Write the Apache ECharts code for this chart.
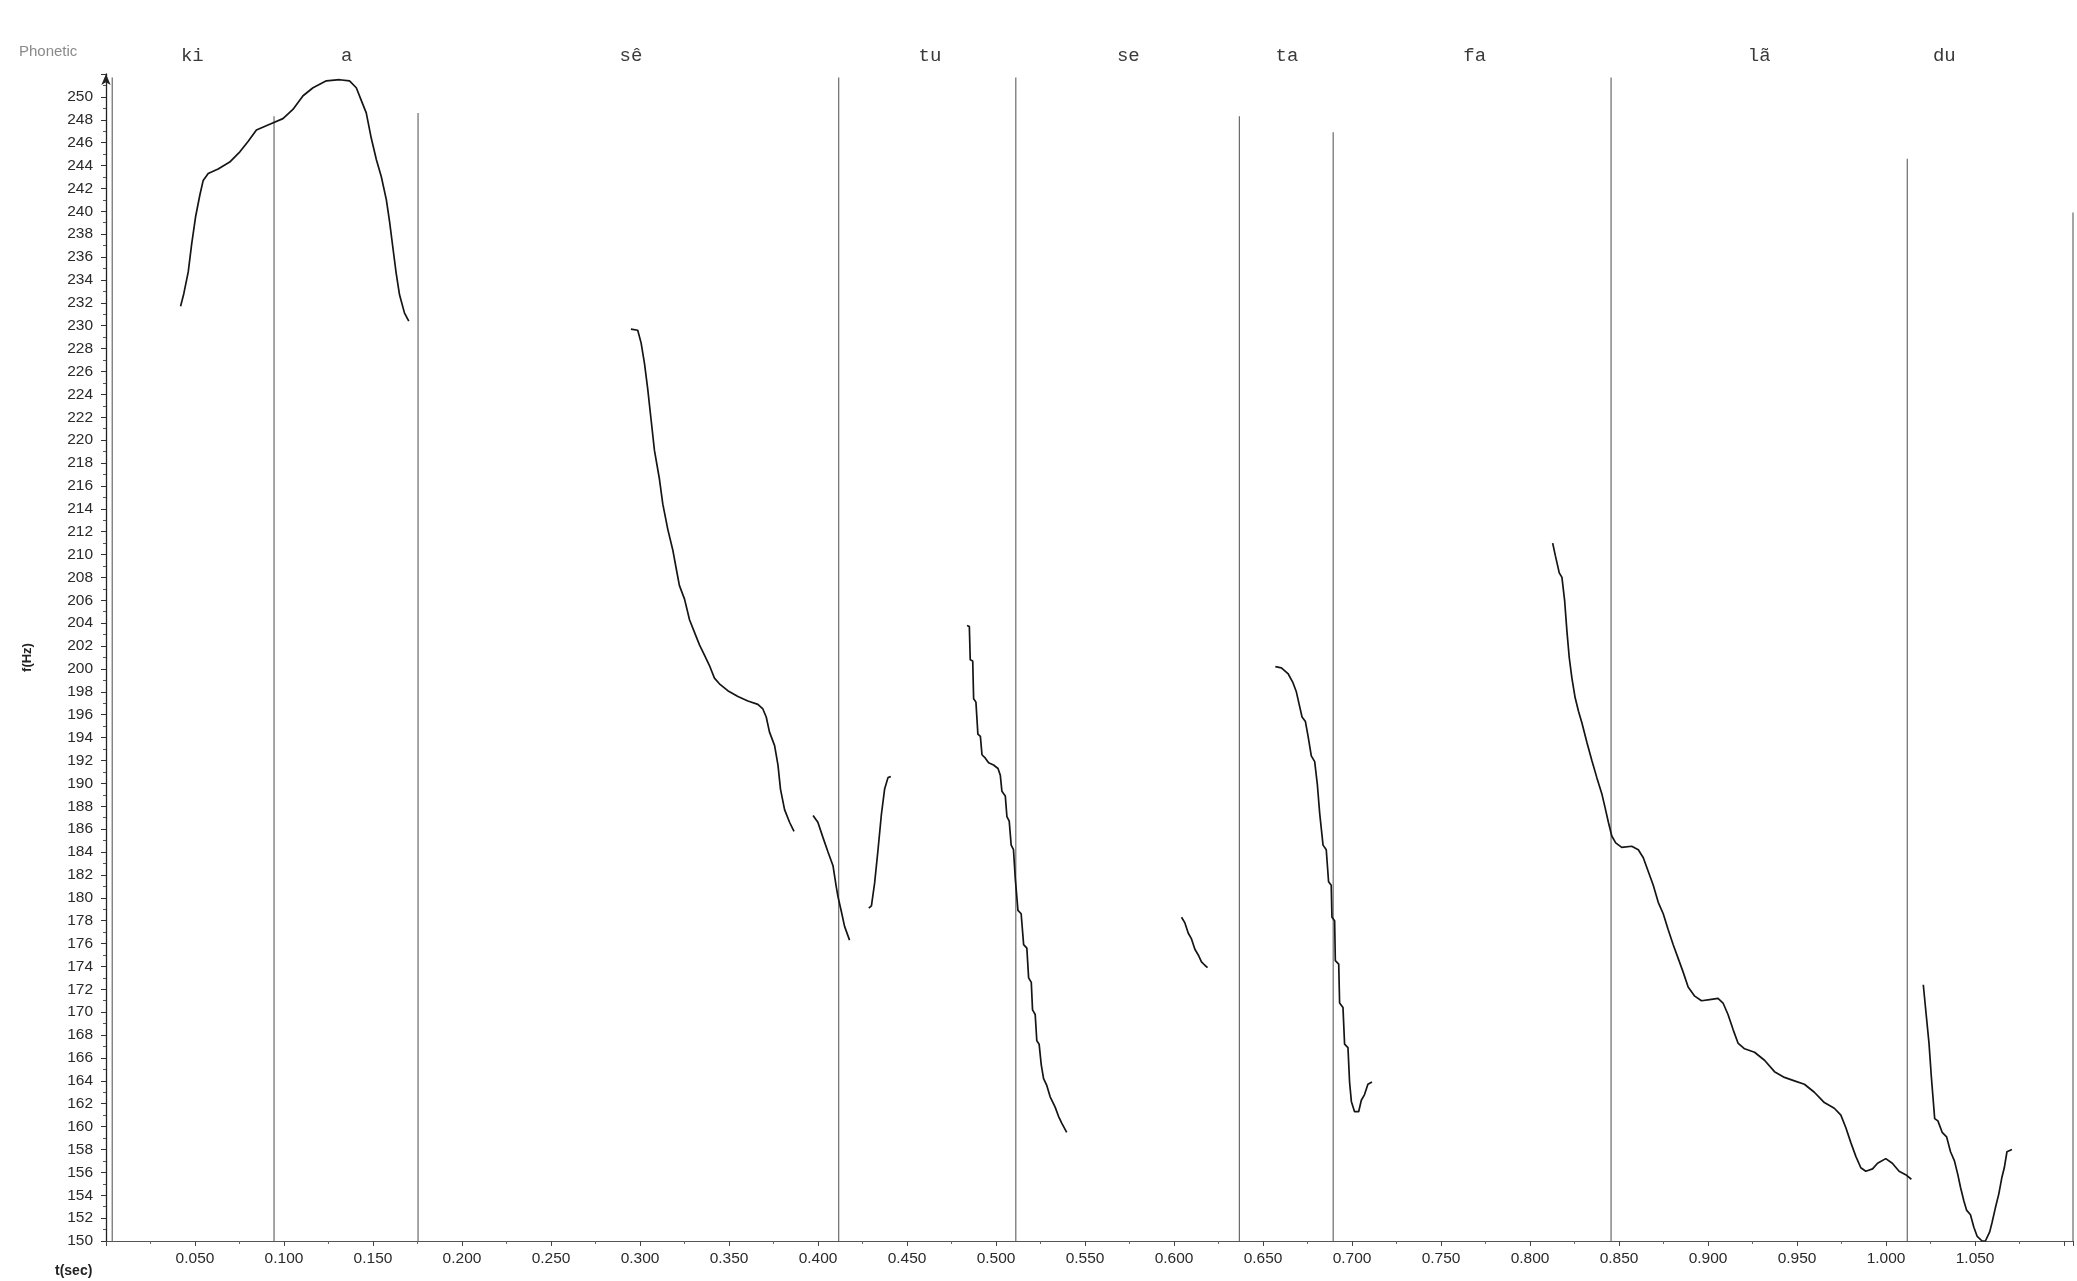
<!DOCTYPE html>
<html>
<head>
<meta charset="utf-8">
<script src="https://cdn.jsdelivr.net/npm/echarts@6/dist/echarts.min.js"></script>
<style>
html,body{margin:0;padding:0;background:#fff;}
#chart{width:2077px;height:1281px;}
</style>
</head>
<body>
<div id="chart"></div>
<script>
// Phonetic syllables and their time positions (sec)
const syllables = ['ki', 'a', 'sê', 'tu', 'se', 'ta', 'fa', 'lã', 'du'];
const syllableTimes = [0.0485, 0.1352, 0.2949, 0.4629, 0.5743, 0.6634, 0.7689, 0.9287, 1.0327];

// Segment boundary marks: time (sec) and upper end (Hz)
const boundaryTimes = [0.0035, 0.0944, 0.1753, 0.4116, 0.5111, 0.6367, 0.6894, 0.8455, 1.0119, 1.105];
const boundaryTops = [251.7, 248.3, 248.6, 251.7, 251.7, 248.3, 246.9, 251.7, 244.6, 239.9];

// F0 contour pieces [t(sec), f(Hz)]
const contourKiA = [
  [0.0419,231.7],[0.0437,232.8],[0.0462,234.7],[0.0481,237.1],[0.0503,239.5],[0.0527,241.4],
  [0.0546,242.7],[0.0574,243.3],[0.0630,243.7],[0.0695,244.3],[0.0752,245.2],[0.0798,246.1],
  [0.0845,247.1],[0.0920,247.6],[0.0994,248.1],[0.1050,248.9],[0.1107,250.1],[0.1163,250.8],
  [0.1238,251.4],[0.1312,251.5],[0.1368,251.4],[0.1406,250.8],[0.1434,249.7],[0.1462,248.6],
  [0.1490,246.4],[0.1519,244.5],[0.1547,243.0],[0.1575,241.0],[0.1593,239.1],[0.1611,236.9],
  [0.1630,234.6],[0.1649,232.7],[0.1677,231.1],[0.1701,230.4]
];
const contourSe1 = [
  [0.2949,229.7],[0.2987,229.6],[0.3006,228.5],[0.3025,226.7],[0.3043,224.5],[0.3062,221.8],
  [0.3081,219.1],[0.3109,216.6],[0.3128,214.4],[0.3156,212.2],[0.3184,210.4],[0.3203,208.8],
  [0.3221,207.3],[0.3250,206.1],[0.3278,204.3],[0.3306,203.2],[0.3334,202.1],[0.3362,201.2],
  [0.3390,200.3],[0.3418,199.2],[0.3446,198.7],[0.3493,198.1],[0.3550,197.6],[0.3606,197.2],
  [0.3662,196.9],[0.3690,196.5],[0.3709,195.8],[0.3727,194.5],[0.3756,193.3],[0.3775,191.6],
  [0.3789,189.5],[0.3812,187.7],[0.3840,186.6],[0.3865,185.8]
];
const contourSe2 = [
  [0.3972,187.2],[0.3999,186.6],[0.4027,185.3],[0.4056,184.0],[0.4084,182.8],[0.4102,181.0],
  [0.4112,180.1],[0.4131,178.8],[0.4149,177.5],[0.4177,176.3]
];
const contourTu1 = [
  [0.4285,179.1],[0.4300,179.3],[0.4318,181.3],[0.4337,184.2],[0.4356,187.3],[0.4374,189.5],
  [0.4393,190.5],[0.4409,190.6]
];
const contourTu2 = [
  [0.4837,203.8],[0.4850,203.7],[0.4855,200.8],[0.4869,200.7],[0.4874,197.4],[0.4887,197.1],
  [0.4898,194.3],[0.4912,194.1],[0.4921,192.5],[0.4940,192.2],[0.4958,191.8],[0.4986,191.6],
  [0.5011,191.3],[0.5024,190.7],[0.5033,189.3],[0.5052,188.9],[0.5061,187.1],[0.5074,186.7],
  [0.5085,184.6],[0.5098,184.2],[0.5108,181.7],[0.5117,181.6],[0.5123,178.9],[0.5141,178.6],
  [0.5155,175.9],[0.5173,175.6],[0.5183,173.0],[0.5198,172.6],[0.5205,170.2],[0.5220,169.8],
  [0.5229,167.5],[0.5242,167.2],[0.5254,165.4],[0.5267,164.2],[0.5285,163.6],[0.5304,162.6],
  [0.5332,161.7],[0.5351,160.9],[0.5369,160.3],[0.5397,159.5]
];
const contourSe3 = [
  [0.6042,178.3],[0.6061,177.8],[0.6080,176.9],[0.6098,176.4],[0.6117,175.5],[0.6136,175.0],
  [0.6154,174.4],[0.6173,174.1],[0.6188,173.9]
];
const contourTa = [
  [0.6569,200.2],[0.6603,200.1],[0.6640,199.6],[0.6668,198.8],[0.6687,198.0],[0.6700,197.1],
  [0.6719,195.8],[0.6738,195.4],[0.6753,194.1],[0.6771,192.4],[0.6790,191.9],[0.6805,189.9],
  [0.6818,187.4],[0.6837,184.6],[0.6855,184.2],[0.6868,181.4],[0.6883,181.1],[0.6887,178.3],
  [0.6902,178.0],[0.6906,174.5],[0.6925,174.2],[0.6930,170.8],[0.6949,170.4],[0.6958,167.2],
  [0.6977,166.9],[0.6986,163.9],[0.6996,162.2],[0.7014,161.3],[0.7037,161.3],[0.7052,162.3],
  [0.7070,162.8],[0.7089,163.7],[0.7112,163.9]
];
const contourFaLa = [
  [0.8127,211.0],[0.8142,209.9],[0.8164,208.4],[0.8179,208.0],[0.8194,206.0],[0.8207,203.3],
  [0.8220,201.0],[0.8235,199.2],[0.8253,197.5],[0.8272,196.3],[0.8291,195.3],[0.8319,193.6],
  [0.8347,192.0],[0.8375,190.5],[0.8403,189.1],[0.8421,187.9],[0.8440,186.6],[0.8459,185.4],
  [0.8481,184.8],[0.8515,184.4],[0.8571,184.5],[0.8608,184.2],[0.8636,183.5],[0.8664,182.3],
  [0.8692,181.1],[0.8720,179.6],[0.8748,178.6],[0.8776,177.2],[0.8804,175.9],[0.8832,174.7],
  [0.8860,173.5],[0.8888,172.2],[0.8925,171.4],[0.8963,171.0],[0.9009,171.1],[0.9056,171.2],
  [0.9084,170.8],[0.9112,169.8],[0.9140,168.5],[0.9168,167.3],[0.9205,166.8],[0.9261,166.5],
  [0.9317,165.8],[0.9373,164.8],[0.9429,164.3],[0.9485,164.0],[0.9541,163.7],[0.9597,163.0],
  [0.9653,162.1],[0.9709,161.6],[0.9746,161.0],[0.9774,159.9],[0.9802,158.6],[0.9830,157.4],
  [0.9858,156.4],[0.9886,156.1],[0.9924,156.3],[0.9952,156.8],[0.9998,157.2],[1.0035,156.8],
  [1.0073,156.1],[1.0110,155.8],[1.0142,155.4]
];
const contourDu = [
  [1.0209,172.4],[1.0222,170.3],[1.0241,167.3],[1.0254,164.4],[1.0273,160.7],[1.0291,160.5],
  [1.0315,159.5],[1.0340,159.1],[1.0362,157.8],[1.0384,157.0],[1.0403,155.8],[1.0418,154.7],
  [1.0437,153.5],[1.0452,152.7],[1.0474,152.3],[1.0493,151.2],[1.0512,150.4],[1.0539,150.0],
  [1.0558,150.0],[1.0582,150.8],[1.0595,151.6],[1.0614,152.9],[1.0633,154.1],[1.0651,155.6],
  [1.0664,156.4],[1.0679,157.8],[1.0707,158.0]
];

const Y_MIN = 150, Y_MAX = 252;
const contours = [contourKiA, contourSe1, contourSe2, contourTu1, contourTu2, contourSe3, contourTa, contourFaLa, contourDu];

const series = [];
boundaryTimes.forEach((t, i) => {
  series.push({
    type: 'line', xAxisIndex: 0, yAxisIndex: 0, silent: true,
    data: [[t, Y_MIN], [t, boundaryTops[i]]],
    showSymbol: false, symbol: 'none',
    lineStyle: { color: '#6a6a6a', width: 1.2 },
    z: 1
  });
});
contours.forEach(c => {
  series.push({
    type: 'line', xAxisIndex: 0, yAxisIndex: 0,
    data: c, showSymbol: false, symbol: 'none',
    lineStyle: { color: '#151515', width: 1.7 },
    z: 3
  });
});

const chart = echarts.init(document.getElementById('chart'), null, { renderer: 'canvas' });
chart.setOption({
  animation: false,
  backgroundColor: '#ffffff',
  title: [
    { text: 'Phonetic', left: 14, top: 39, textStyle: { fontFamily: 'Liberation Sans', fontSize: 15, fontWeight: 'normal', color: '#8a8a8a' } },
    { text: 't(sec)', left: 50, top: 1259, textStyle: { fontFamily: 'Liberation Sans', fontSize: 14, fontWeight: 'bold', color: '#222' } }
  ],
  grid: { left: 106, right: 4, top: 74, bottom: 40, containLabel: false },
  xAxis: [
    {
      type: 'value', min: 0, max: 1.105, interval: 0.05, position: 'bottom',
      axisLine: { show: true, lineStyle: { color: '#555', width: 1.2 } },
      axisTick: { show: true, length: 5, lineStyle: { color: '#444' } },
      minorTick: { show: true, splitNumber: 2, length: 3, lineStyle: { color: '#666' } },
      splitLine: { show: false },
      axisLabel: {
        margin: 10, fontSize: 15.5, color: '#2a2a2a', fontFamily: 'Liberation Sans',
        formatter: v => (v > 0.001 && v < 1.075) ? v.toFixed(3) : ''
      }
    },
    {
      type: 'value', min: 0, max: 1.105, position: 'top',
      axisLine: { show: false }, axisTick: { show: false }, splitLine: { show: false },
      axisLabel: {
        customValues: syllableTimes,
        margin: 9, fontSize: 19, color: '#3a3a3a', fontFamily: 'Liberation Mono',
        formatter: v => {
          let best = 0, d = Infinity;
          syllableTimes.forEach((t, i) => { const dd = Math.abs(t - v); if (dd < d) { d = dd; best = i; } });
          return syllables[best];
        }
      }
    }
  ],
  yAxis: {
    type: 'value', min: Y_MIN, max: Y_MAX, interval: 2,
    axisLine: { show: true, symbol: ['none', 'arrow'], symbolSize: [7, 11], lineStyle: { color: '#222', width: 1.3 } },
    axisTick: { show: true, length: 5, lineStyle: { color: '#333' } },
    minorTick: { show: true, splitNumber: 2, length: 3, lineStyle: { color: '#555' } },
    splitLine: { show: false },
    axisLabel: {
      margin: 13, fontSize: 15.5, color: '#2a2a2a', fontFamily: 'Liberation Sans',
      formatter: v => v > 250.5 ? '' : String(v)
    },
    name: 'f(Hz)', nameLocation: 'middle', nameGap: 72, nameRotate: 90,
    nameTextStyle: { fontFamily: 'Liberation Sans', fontWeight: 'bold', fontSize: 13, color: '#222' }
  },
  series: series
});
</script>
</body>
</html>
